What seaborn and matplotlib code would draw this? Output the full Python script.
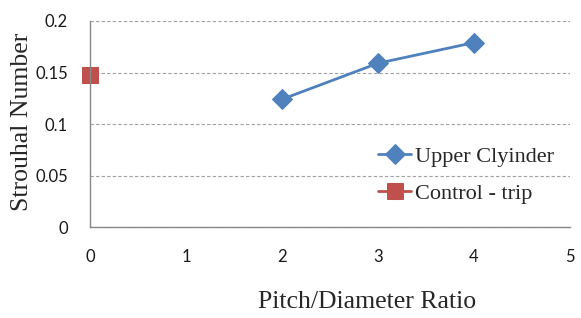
import matplotlib
matplotlib.use("Agg")
import matplotlib.pyplot as plt
import seaborn as sns
import pandas as pd

# data
pitch_ratio = [2, 3, 4]
upper_st = [0.124, 0.159, 0.179]
control_ratio = [0]
control_st = [0.148]

sns.set_style("white")
plt.rcParams['font.family'] = ['Lato', 'DejaVu Sans']

upper = pd.DataFrame({'ratio': pitch_ratio, 'st': upper_st})
control = pd.DataFrame({'ratio': control_ratio, 'st': control_st})

fig = plt.figure(figsize=(5.81, 3.18), dpi=100)
ax = fig.add_axes([0.155, 0.286, 0.826, 0.648])

sns.lineplot(data=upper, x='ratio', y='st', ax=ax, color='#4F81BD', lw=2,
             marker='D', markersize=10, markeredgecolor='#4F81BD',
             label='Upper Clyinder')
sns.lineplot(data=control, x='ratio', y='st', ax=ax, color='#C0504D', lw=2,
             marker='s', markersize=12, markeredgecolor='#C0504D',
             label='Control - trip')

ax.set_xlim(0, 5)
ax.set_ylim(0, 0.2)
ax.set_xticks([0, 1, 2, 3, 4, 5])
ax.set_yticks([0, 0.05, 0.1, 0.15, 0.2])
ax.set_yticklabels(['0', '0.05', '0.1', '0.15', '0.2'])
ax.tick_params(axis='both', labelsize=12, length=0, colors='#1a1a1a')
ax.tick_params(axis='x', pad=16)
ax.tick_params(axis='y', pad=16)

ax.yaxis.grid(True, linestyle=(0, (3, 2)), color='#A0A0A0', lw=0.8)
ax.set_axisbelow(True)
for s in ['top', 'right']:
    ax.spines[s].set_visible(False)
for s in ['left', 'bottom']:
    ax.spines[s].set_color('#888888')
    ax.spines[s].set_linewidth(1)
for m in ax.lines:
    m.set_clip_on(False)

ax.set_xlabel('Pitch/Diameter Ratio', family='Liberation Serif', fontsize=18.5)
ax.xaxis.set_label_coords(0.577, -0.31)
ax.set_ylabel('Strouhal Number', family='Liberation Serif', fontsize=18.5)
ax.yaxis.set_label_coords(-0.119, 0.51)

ax.legend(loc='upper left', bbox_to_anchor=(0.6, 0.393), frameon=False,
          prop={'family': 'Liberation Serif', 'size': 16},
          borderpad=0, borderaxespad=0,
          handlelength=1.5, handletextpad=0.15, labelspacing=0.74)

fig.savefig('out.png', dpi=100)
